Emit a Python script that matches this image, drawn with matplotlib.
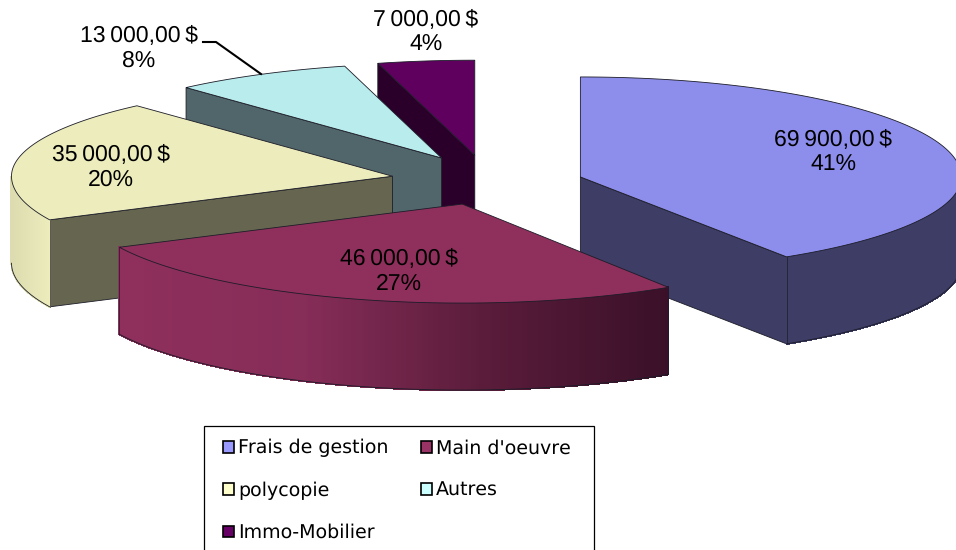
import numpy as np
import matplotlib
matplotlib.use("Agg")
import matplotlib.pyplot as plt
from matplotlib.collections import PolyCollection
from matplotlib.colors import LinearSegmentedColormap
from matplotlib.patches import Patch, Polygon, Rectangle

plt.rcParams["text.hinting"] = "none"
plt.rcParams["text.hinting_factor"] = 1

categories = ["Frais de gestion", "Main d'oeuvre", "polycopie", "Autres", "Immo-Mobilier"]
values = [69900, 46000, 35000, 13000, 7000]
legend_colors = ["#9999FF", "#993366", "#FFFFCC", "#CCFFFF", "#660066"]
top_colors = ["#8D8DEB", "#8F2F5C", "#ECECBC", "#B9ECEC", "#5F005F"]
face_colors = ["#3D3D66", "#5C1E3C", "#666650", "#50666A", "#2A002A"]
rim_stops = [["#3D3D66", "#3D3D66"],
             ["#8F2F5C", "#862D58", "#5A1C3A", "#3A1028"],
             ["#DCDCB0", "#ECECBC"],
             ["#50666A", "#50666A"],
             ["#2A002A", "#2A002A"]]
label_pos = [(833, 152), (399, 271), (111, 167), (139, 48), (426, 32)]
draw_order = [4, 3, 2, 0, 1]

# Layout of the projected pie (perspective is approximated per slice)
CX, CY, A, DEPTH, EXPLODE = 487, 180, 381, 87, 0.25
B_BASE = 100
b_back = [100, 100, 95, 95, 95]
b_front = [95, 99, 100, 100, 100]
nudge = [(2, 4), (1, 0), (-1, 1), (0, 0), (0, 0)]
EDGE = "#1c1c28"

fig = plt.figure(figsize=(9.56, 5.5), dpi=100)
ax = fig.add_axes([0, 0, 1, 1])
ax.set_xlim(0, 956)
ax.set_ylim(550, 0)
ax.axis("off")

vals = np.asarray(values, dtype=float)
total = vals.sum()
bounds = np.concatenate([[0], np.cumsum(vals)]) / total * 2 * np.pi

for z, i in enumerate(draw_order):
    t0, t1 = bounds[i], bounds[i + 1]
    mid = (t0 + t1) / 2
    ox = CX + EXPLODE * A * np.sin(mid) + nudge[i][0]
    oy = CY - EXPLODE * B_BASE * np.cos(mid) + nudge[i][1]
    base = z * 10 + 2

    def ell(t):
        c = np.cos(t)
        return ox + A * np.sin(t), oy - np.where(c > 0, b_back[i], b_front[i]) * c

    # Radial cut faces visible to the viewer
    for t, visible in ((t0, np.sin(t0) < -1e-6), (t1, np.sin(t1) > 1e-6)):
        if visible:
            ex, ey = ell(t)
            ax.add_patch(Polygon([(ox, oy), (ex, ey), (ex, ey + DEPTH), (ox, oy + DEPTH)],
                                 closed=True, facecolor=face_colors[i], edgecolor=EDGE,
                                 linewidth=0.6, zorder=base))

    # Outer rim (front half of the ellipse only)
    r0, r1 = max(t0, np.pi / 2), min(t1, 3 * np.pi / 2)
    if r1 > r0:
        tt = np.linspace(r0, r1, 240)
        xs, ys = ell(tt)
        mid_x = (xs[:-1] + xs[1:]) / 2
        frac = (mid_x - mid_x.min()) / (np.ptp(mid_x) + 1e-9)
        cmap = LinearSegmentedColormap.from_list("rim", rim_stops[i])
        polys = [[(xs[k], ys[k]), (xs[k + 1], ys[k + 1]),
                  (xs[k + 1], ys[k + 1] + DEPTH), (xs[k], ys[k] + DEPTH)]
                 for k in range(len(tt) - 1)]
        cols = cmap(frac)
        ax.add_collection(PolyCollection(polys, facecolors=cols, edgecolors=cols,
                                         linewidths=0.8, antialiaseds=False, zorder=base + 1))
        ax.plot(xs, ys + DEPTH, color=EDGE, lw=0.6, zorder=base + 2)
        ax.plot([xs[0], xs[0]], [ys[0], ys[0] + DEPTH], color=EDGE, lw=0.5, zorder=base + 2)
        if i != 2:
            ax.plot([xs[-1], xs[-1]], [ys[-1], ys[-1] + DEPTH], color=EDGE, lw=0.5, zorder=base + 2)

    # Top face
    tt = np.linspace(t0, t1, 200)
    xs, ys = ell(tt)
    pts = np.column_stack([np.r_[ox, xs], np.r_[oy, ys]])
    ax.add_patch(Polygon(pts, closed=True, facecolor=top_colors[i], edgecolor=EDGE,
                         linewidth=0.6, zorder=base + 3))

# Data labels
for v, pos in zip(values, label_pos):
    money = f"{v:,.2f}".replace(",", "\u2009").replace(".", ",") + "\u2009$"
    pct = f"{v / total * 100:.0f}%"
    ax.text(pos[0], pos[1], f"{money}\n{pct}", ha="center", va="center",
            family=["Liberation Sans", "DejaVu Sans"], fontsize=16.5, color="black",
            linespacing=1.3, zorder=200)

# Leader line for the "Autres" label
ax.plot([203, 216, 261], [42, 42, 74], color="black", lw=1.5, zorder=150)

# Legend frame (runs past the bottom of the picture) and legend entries
ax.add_patch(Rectangle((204, 426), 390, 140, facecolor="white", edgecolor="black",
                       linewidth=0.9, zorder=290))
handles = [Patch(facecolor=legend_colors[i], edgecolor="black", linewidth=1.2, label=categories[i])
           for i in (0, 2, 4, 1, 3)]
leg = ax.legend(handles=handles, ncol=2, loc="upper left",
                bbox_to_anchor=(223, 439), bbox_transform=ax.transData,
                borderaxespad=0, frameon=False, borderpad=0,
                prop={"family": "DejaVu Sans", "size": 13.45},
                handlelength=0.6, handleheight=0.6, handletextpad=0.2,
                columnspacing=1.75, labelspacing=1.28)
leg.set_zorder(300)

fig.savefig("out.png", dpi=100)
